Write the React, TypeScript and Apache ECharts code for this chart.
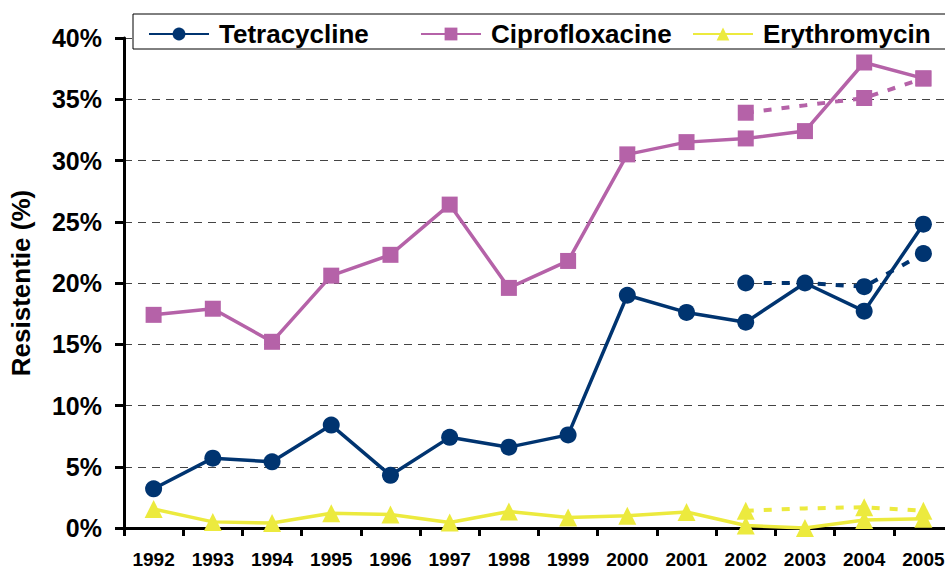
import React, { useEffect, useRef } from "react";
import * as echarts from "echarts";

const years = ["1992","1993","1994","1995","1996","1997","1998","1999","2000","2001","2002","2003","2004","2005"];
const tetracycline = [3.2, 5.7, 5.4, 8.4, 4.3, 7.4, 6.6, 7.6, 19.0, 17.6, 16.8, 20.0, 17.7, 24.8];
const ciprofloxacine = [17.4, 17.9, 15.2, 20.6, 22.3, 26.4, 19.6, 21.8, 30.5, 31.5, 31.8, 32.4, 38.0, 36.7];
const erythromycin = [1.55, 0.5, 0.4, 1.2, 1.1, 0.45, 1.35, 0.85, 1.0, 1.3, 0.2, 0.0, 0.65, 0.75];
const tetraDashed = [null, null, null, null, null, null, null, null, null, null, 20.0, 20.0, 19.7, 22.4];
const ciproDashed = [null, null, null, null, null, null, null, null, null, null, 33.9, 34.5, 35.1, 36.7];
const erythDashed = [null, null, null, null, null, null, null, null, null, null, 1.4, 1.6, 1.7, 1.4];
const yTicks = [0, 5, 10, 15, 20, 25, 30, 35, 40];

const C_TET = "#003470";
const C_CIP = "#B562A8";
const C_ERY = "#ECEA3E";

export default function App() {
  const ref = useRef<HTMLDivElement>(null);
  useEffect(() => {
    document.body.style.margin = "0";
    const chart = echarts.init(ref.current!, null, { renderer: "svg" });
    const dashedData = (arr: (number | null)[]) =>
      arr.map((v, i) => (v === null ? null : i === 11 ? { value: v, symbol: "none" } : v));
    const legendText = { fontFamily: "Arial, Liberation Sans", fontWeight: "bold", fontSize: 26, color: "#000", padding: [0, 0, 0, 5] };
    const option: any = {
      animation: false,
      backgroundColor: "#fff",
      grid: { left: 124, top: 38, right: 0, bottom: 40, containLabel: false },
      graphic: [
        {
          type: "rect",
          shape: { x: 133, y: 14, width: 830, height: 35 },
          style: { fill: "#fff", stroke: "#000", lineWidth: 1 },
          z: 5,
        },
      ],
      legend: [
        { data: ["Tetracycline"], left: 143, top: 16, itemWidth: 60, itemHeight: 16, textStyle: legendText, z: 10 },
        { data: ["Ciprofloxacine"], left: 415, top: 16, itemWidth: 60, itemHeight: 16, textStyle: legendText, z: 10 },
        { data: ["Erythromycin"], left: 687, top: 16, itemWidth: 60, itemHeight: 16, textStyle: legendText, z: 10 },
      ],
      xAxis: {
        type: "category",
        data: years,
        boundaryGap: true,
        axisLine: { lineStyle: { color: "#000", width: 3 } },
        axisTick: { show: true, length: 8, lineStyle: { color: "#000", width: 3 }, alignWithLabel: false },
        axisLabel: {
          fontFamily: "Arial, Liberation Sans",
          fontWeight: "bold",
          fontSize: 19,
          color: "#000",
          margin: 22,
          interval: 0,
        },
      },
      yAxis: {
        type: "value",
        min: 0,
        max: 40,
        interval: 5,
        name: "Resistentie (%)",
        nameLocation: "middle",
        nameRotate: 90,
        nameGap: 90,
        nameTextStyle: { fontFamily: "Arial, Liberation Sans", fontWeight: "bold", fontSize: 26, color: "#000" },
        axisLine: { show: true, lineStyle: { color: "#000", width: 3 } },
        axisTick: { show: true, length: 9, lineStyle: { color: "#000", width: 3 } },
        axisLabel: {
          formatter: (v: number) => (yTicks.includes(v) ? v + "%" : ""),
          fontFamily: "Arial, Liberation Sans",
          fontWeight: "bold",
          fontSize: 25,
          color: "#000",
          margin: 22,
        },
        splitLine: { show: true, lineStyle: { color: "#444", width: 1, type: [8, 6] } },
      },
      series: [
        {
          name: "Tetracycline", type: "line", data: tetracycline,
          symbol: "circle", symbolSize: 17,
          lineStyle: { color: C_TET, width: 3.5 }, itemStyle: { color: C_TET }, z: 3,
        },
        {
          name: "Ciprofloxacine", type: "line", data: ciprofloxacine,
          symbol: "rect", symbolSize: 16,
          lineStyle: { color: C_CIP, width: 3.5 }, itemStyle: { color: C_CIP }, z: 3,
        },
        {
          name: "Erythromycin", type: "line", data: erythromycin,
          symbol: "triangle", symbolSize: 18,
          lineStyle: { color: C_ERY, width: 3.5 }, itemStyle: { color: C_ERY }, z: 3,
        },
        {
          name: "Tetracycline (trend)", type: "line", data: dashedData(tetraDashed),
          symbol: "circle", symbolSize: 17,
          lineStyle: { color: C_TET, width: 4, type: [8, 10] }, itemStyle: { color: C_TET }, z: 2,
        },
        {
          name: "Ciprofloxacine (trend)", type: "line", data: dashedData(ciproDashed),
          symbol: "rect", symbolSize: 16,
          lineStyle: { color: C_CIP, width: 4, type: [8, 10] }, itemStyle: { color: C_CIP }, z: 2,
        },
        {
          name: "Erythromycin (trend)", type: "line", data: dashedData(erythDashed),
          symbol: "triangle", symbolSize: 18,
          lineStyle: { color: C_ERY, width: 4, type: [8, 10] }, itemStyle: { color: C_ERY }, z: 2,
        },
      ],
    };
    chart.setOption(option);
    return () => chart.dispose();
  }, []);
  return (
    <div style={{ position: "fixed", left: 0, top: 0, width: 945, height: 569, overflow: "hidden", background: "#fff" }}>
      <div ref={ref} style={{ width: 953, height: 569 }} />
    </div>
  );
}
